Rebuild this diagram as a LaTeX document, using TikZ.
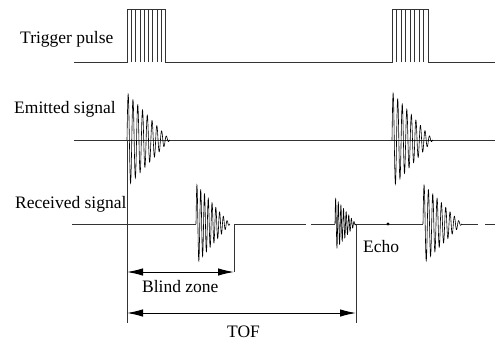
\documentclass[tikz,border=0pt]{standalone}
\usepackage{fontspec}
\setmainfont{Liberation Serif}
\usetikzlibrary{arrows.meta}

\begin{document}
\begin{tikzpicture}[x=1pt, y=-1pt,
        >={Latex[length=16pt,width=7.5pt]},   %Pfeilspitzen
        base/.style={line width=0.8pt, black!80},
        sig/.style={line width=0.6pt, black},
        dim/.style={line width=1pt, black, <->},
        lbl/.style={anchor=base west, inner sep=0pt},
        font=\fontsize{17.5}{20}\selectfont]
        \useasboundingbox (0,0) rectangle (495,341);
        % Beschriftungen
        \node[lbl] (trig) at (20,43.3) {Trigger pulse};
        \node[lbl] (emit) at (14,113) {Emitted signal};
        \node[lbl] (recv) at (15,208) {Received signal};
        % Zeitmarken
        \coordinate (t0) at (127,140);
        \coordinate (tb) at (234,224);
        \coordinate (te) at (356,224);
        % Triggerpulse
        \draw[base] (74,62) -- (127,62) |- (165,9) -- (165,62) -- (392,62) |- (428,9) -- (428,62) -- (495,62);
        \foreach \i in {1,...,8} \draw[base] (127+\i*4.3,62) -- (127+\i*4.3,9);
        \foreach \i in {1,...,7} \draw[base] (392+\i*4.5,62) -- (392+\i*4.5,9);
        % Sendesignal
        \draw[base] (74,140) -- (495,140);
        \draw[sig] plot[domain=0:1,samples=300] ({127+43*\x},{140-47*(1-\x)*sin(3240*\x)});
        \draw[sig] plot[domain=0:1,samples=300] ({392+41*\x},{140-48*(1-\x)*sin(3240*\x)});
        % Empfangssignal
        \draw[base] (72,224) -- (196,224);
        \draw[base] (tb) -- (306,224);
        \draw[base] (311,224) -- (335,224);
        \draw[base] (te) -- (423,224);
        \draw[base] (462,224) -- (478,224);
        \draw[base] (485,224) -- (495,224);
        \draw[sig] plot[domain=0:1,samples=300] ({196+34*\x},{224-40*(1-\x)*sin(3240*\x)});
        \draw[sig] plot[domain=0:1,samples=300] ({335+21*\x},{224-26*(1-\x)*sin(2880*\x)});
        \draw[sig] plot[domain=0:1,samples=300] ({423+39*\x},{224-40*(1-\x)*sin(3240*\x)});
        \fill (388,224) circle (1.6pt);
        % Hilfslinien und Pfeile
        \draw[base] (t0) -- (127,323);
        \draw[base] (tb) -- (234,272) coordinate (bz);
        \draw[base] (te) -- (356,323);
        \draw[dim] (127,272) -- (bz);
        \draw[dim] (127,313) -- (356,313);
        \node[lbl] (blind) at (142,292) {Blind zone};
        \node[lbl] (tof) at (227,337) {TOF};
        \node[lbl] (echo) at (363,252) {Echo};
    \end{tikzpicture}
\end{document}
